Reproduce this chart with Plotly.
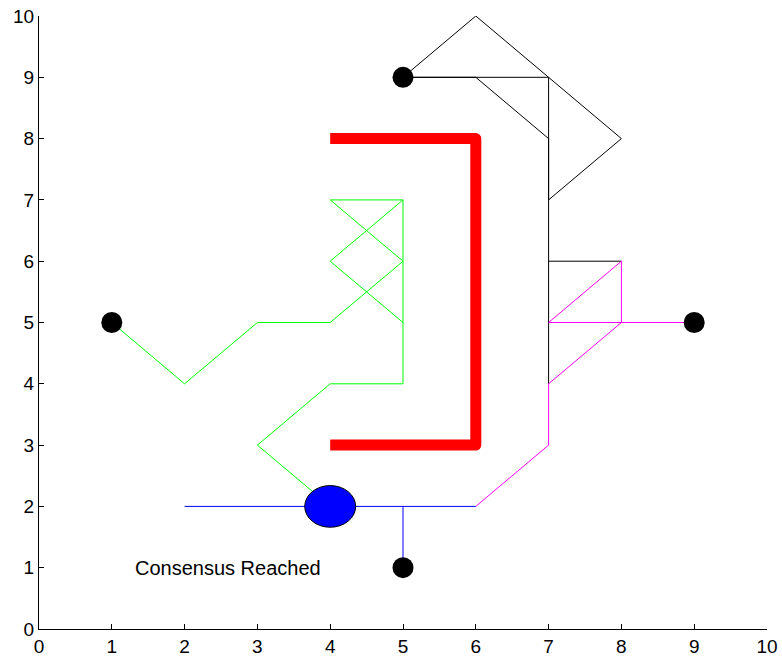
import plotly.graph_objects as go

# Agent paths (None separates segments)
green_x = [1, 2, 3, 4, 5, 4, 5, 4, 5, 5, 4, 3, 4]
green_y = [5, 4, 5, 5, 6, 7, 7, 6, 5, 4, 4, 3, 2]
green2_x = [5, 5]
green2_y = [7, 5]

black_x = [5, 6, 7, 8, 7, 7, 6, 5, 7, 7, None, 7, 8]
black_y = [9, 10, 9, 8, 7, 8, 9, 9, 9, 4, None, 6, 6]

magenta_x = [9, 8, 7, 8, 8, 7, 7, 6]
magenta_y = [5, 5, 5, 6, 5, 4, 3, 2]

blue_x = [2, 6, None, 5, 5]
blue_y = [2, 2, None, 2, 1]

wall_x = [4, 6, 6, 4]
wall_y = [8, 8, 3, 3]

start_x = [5, 1, 9, 5]
start_y = [9, 5, 5, 1]

meet_x = [4]
meet_y = [2]
meet_rx = 0.35
meet_ry = 0.34

label_text = "Consensus Reached"
label_x = 1.32
label_y = 1

xticks = list(range(0, 11))
yticks = list(range(0, 11))

FONT = "Liberation Sans, Arial, sans-serif"

fig = go.Figure()
fig.add_trace(go.Scatter(x=wall_x, y=wall_y, mode="lines",
                         line=dict(color="#FF0000", width=11), hoverinfo="skip"))
fig.add_trace(go.Scatter(x=black_x, y=black_y, mode="lines",
                         line=dict(color="#000000", width=1), hoverinfo="skip"))
fig.add_trace(go.Scatter(x=magenta_x, y=magenta_y, mode="lines",
                         line=dict(color="#FF00FF", width=1), hoverinfo="skip"))
fig.add_trace(go.Scatter(x=green_x, y=green_y, mode="lines",
                         line=dict(color="#00FF00", width=1), hoverinfo="skip"))
fig.add_trace(go.Scatter(x=green2_x, y=green2_y, mode="lines",
                         line=dict(color="#00FF00", width=1), hoverinfo="skip"))
fig.add_trace(go.Scatter(x=blue_x, y=blue_y, mode="lines",
                         line=dict(color="#0000FF", width=1), hoverinfo="skip"))
fig.add_trace(go.Scatter(x=start_x, y=start_y, mode="markers",
                         marker=dict(color="#000000", size=21, line=dict(width=0)),
                         hoverinfo="skip"))

for cx, cy in zip(meet_x, meet_y):
    fig.add_shape(type="circle", xref="x", yref="y",
                  x0=cx - meet_rx, x1=cx + meet_rx,
                  y0=cy - meet_ry, y1=cy + meet_ry,
                  fillcolor="#0000FF", line=dict(color="#000000", width=1),
                  layer="above")

fig.add_annotation(x=label_x, y=label_y, text=label_text, showarrow=False,
                   xanchor="left", yanchor="middle", xshift=-2,
                   font=dict(family=FONT, size=20, color="#000000"))

axis_common = dict(showgrid=False, zeroline=False, showline=True,
                   linecolor="#000000", linewidth=1, ticks="inside",
                   ticklen=5, tickcolor="#000000", mirror=False,
                   automargin=False,
                   tickfont=dict(family=FONT, size=19, color="#000000"))

fig.update_layout(
    width=782, height=657,
    margin=dict(l=39, r=15, t=16, b=28),
    paper_bgcolor="white", plot_bgcolor="white",
    showlegend=False,
    xaxis=dict(range=[0, 10], tickvals=xticks, ticktext=[str(t) for t in xticks], **axis_common),
    yaxis=dict(range=[0, 10], tickvals=yticks, ticktext=[str(t) for t in yticks], **axis_common),
)

post_js = """
document.body.style.margin = '0';
document.body.style.overflow = 'hidden';
var p = document.querySelectorAll('.scatterlayer .trace path.js-line');
if (p.length) { p[0].style.strokeLinejoin = 'round'; }
"""

fig.write_html("out.html", post_script=post_js,
               config={"displayModeBar": False, "staticPlot": True})
